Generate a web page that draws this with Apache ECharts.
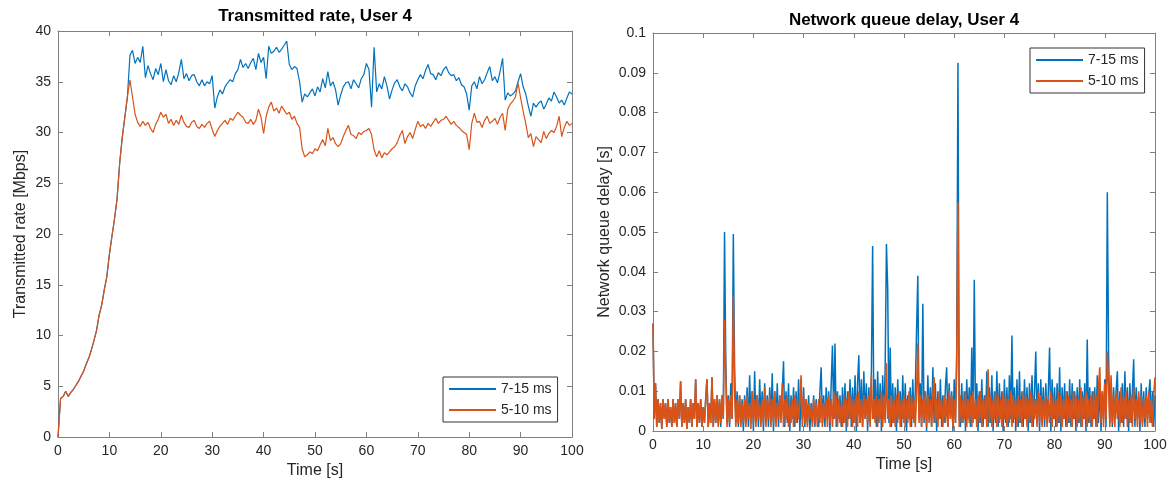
<!DOCTYPE html>
<html>
<head>
<meta charset="utf-8">
<script src="https://cdn.jsdelivr.net/npm/echarts@6/dist/echarts.min.js"></script>
<style>
  html, body { margin: 0; padding: 0; background: #fff; }
  #chart { width: 1175px; height: 488px; }
</style>
</head>
<body>
<div id="chart"></div>
<script>
// series names
const seriesNames = ['7-15 ms', '5-10 ms'];

// transmitted rate [Mbps], sampled every 0.5 s
const rateStep = 0.5;
// start-up ramp 0 .. 13.5 s, both cases identical
const rampRate = [0, 3.8, 4.0, 4.5, 4.0, 4.4, 4.7, 5.1, 5.5, 6.0, 6.5, 7.2, 7.8, 8.6,
  9.5, 10.5, 12.0, 13.0, 14.5, 15.8, 18.0, 19.8, 21.5, 23.5, 27.0, 29.5, 31.5, 33.5];
// 14 .. 100 s
const rateBlue = [
  37.6, 38.1, 36.8, 37.4, 36.9, 38.5, 35.4, 36.6, 35.8, 35.2,
  36.3, 35.7, 36.8, 35.0, 36.2, 35.1, 34.7, 35.6, 35.0, 35.9,
  37.2, 35.3, 35.8, 35.1, 35.6, 35.7, 35.0, 34.6, 35.2, 34.6,
  35.0, 34.8, 35.6, 32.4, 33.5, 34.2, 33.8, 34.5, 34.9, 35.2,
  35.0, 35.8, 36.2, 37.2, 36.4, 36.8, 36.3, 36.9, 37.3, 36.2,
  37.8, 36.9, 37.4, 35.3, 38.5, 37.8, 38.0, 38.4, 37.9, 38.2,
  38.6, 39.0, 36.7, 36.2, 36.5, 36.3, 35.0, 33.0, 33.8, 33.5,
  33.9, 34.3, 33.6, 34.5, 34.0, 35.3, 34.4, 36.0, 34.6, 35.0,
  34.2, 32.7, 33.7, 34.5, 34.9, 35.0, 34.3, 35.2, 34.8, 34.4,
  35.3, 35.7, 36.8, 36.2, 32.5, 38.4, 34.0, 34.8, 34.3, 35.5,
  34.6, 33.3, 34.2, 34.9, 35.2, 34.5, 34.1, 34.8, 34.5, 33.9,
  33.5, 34.6, 35.2, 35.7, 35.3, 36.1, 36.7, 35.8, 35.7, 35.2,
  35.9, 35.6, 36.2, 36.5, 35.9, 35.6, 35.7, 35.1, 35.4, 34.7,
  34.5, 33.8, 32.2, 34.6, 35.0, 34.3, 35.5, 34.8, 35.2, 35.9,
  36.5, 35.1, 35.5, 34.9, 36.0, 37.3, 33.2, 33.9, 33.6, 33.8,
  34.1, 35.0, 35.8, 34.5, 33.8, 32.6, 31.6, 32.9, 32.5, 32.9,
  33.1, 32.3, 32.8, 33.4, 33.1, 34.0, 33.5, 32.9, 33.2, 32.7,
  33.4, 34.0, 33.8
];
const rateOrange = [
  35.2, 33.5, 31.8, 31.0, 30.6, 31.1, 30.7, 31.0, 30.4, 30.0,
  30.8, 31.3, 32.0, 31.5, 31.8, 30.9, 31.3, 30.7, 31.2, 30.8,
  31.7, 31.0, 30.6, 30.5, 31.0, 31.2, 30.6, 30.4, 30.8, 30.5,
  30.9, 31.1, 30.3, 29.6, 30.2, 30.6, 30.9, 31.2, 30.8, 31.4,
  31.2, 31.6, 32.0, 31.7, 31.5, 31.0, 30.9, 31.3, 30.8, 31.2,
  32.3, 31.5, 29.9, 31.6, 32.5, 33.0, 32.1, 32.4, 31.9, 32.6,
  32.2, 31.8, 32.0, 31.3, 31.6, 30.9, 30.5, 28.4, 27.6, 27.8,
  28.1, 27.9, 28.4, 28.2, 28.8, 29.3, 28.7, 30.4, 29.2, 29.5,
  28.9, 28.6, 28.9, 29.6, 30.2, 30.7, 29.8, 29.7, 29.4, 30.0,
  29.8, 30.1, 30.2, 30.4, 29.8, 28.3, 27.6, 28.2, 27.5, 28.0,
  27.8, 28.1, 28.4, 28.6, 29.0, 29.7, 30.2, 28.9, 29.6, 30.0,
  29.4, 30.3, 31.1, 30.6, 30.8, 30.4, 30.9, 30.6, 31.0, 31.4,
  30.9, 31.2, 31.3, 31.6, 31.2, 30.8, 31.1, 30.7, 30.5, 30.2,
  30.0, 29.8, 28.3, 30.9, 31.9, 31.0, 31.1, 30.5, 31.2, 31.6,
  30.9, 31.1, 31.4, 30.8, 31.5, 31.9, 30.2, 32.3, 32.8, 33.1,
  33.5, 34.9, 33.4, 32.1, 30.9, 29.5, 29.9, 28.6, 29.6, 29.3,
  29.0, 30.1, 29.4, 29.9, 30.2, 30.0, 30.6, 31.6, 29.6, 30.5,
  31.1, 30.7, 30.9
];

// network queue delay [ms], sampled every 0.25 s
const delayStep = 0.25;
// 0 .. 12.75 s, both cases identical
const startDelay = [
  27, 3, 12, 1, 8, 2, 7, 0.5, 8, 3, 7, 1, 8, 2, 6, 1, 8, 2, 7, 1,
  8, 3, 12.5, 1, 7, 2, 8, 0.5, 6, 2, 8, 1, 7, 3, 13, 1, 7, 2, 8, 1,
  6, 2, 8, 13, 1, 7, 2, 13.5, 1, 8, 2, 9
];
// 13 .. 100 s
const delayBlue = [
  2, 8, 1, 9, 3, 50, 17, 2, 9, 1, 12, 3, 49.5, 16, 2, 10, 1, 9, 2, 8,
  0, 9, 2, 11, 1, 14, 3, 10, 0, 15, 2, 9, 1, 13, 3, 10, 0, 12, 2, 9,
  1, 11, 3, 14.5, 0, 10, 2, 12, 1, 9, 3, 10, 17.5, 1, 10, 2, 12, 0, 9, 3,
  11, 1, 10, 2, 13, 0, 9, 3, 11, 1, 8, 2, 9, 0, 7, 2, 9, 1, 8, 3,
  1, 10, 16, 2, 9, 1, 11, 3, 10, 0, 12, 21.5, 3, 22, 1, 10, 3, 9, 1, 11,
  2, 12, 0, 10, 3, 13, 1, 11, 2, 14, 0, 12, 19, 2, 13, 1, 15, 3, 12, 0,
  11, 2, 14, 46.5, 3, 13, 1, 15, 2, 12, 0, 14, 3, 16, 47, 36, 2, 21, 1, 12,
  2, 11, 0, 13, 3, 10, 1, 14, 2, 12, 0, 9, 3, 11, 1, 13, 2, 10, 25, 39,
  3, 12, 1, 32, 2, 10, 0, 14, 3, 11, 1, 16, 2, 12, 0, 10, 3, 13, 1, 9,
  2, 11, 16, 1, 12, 3, 10, 0, 13, 2, 20, 92.5, 3, 1, 12, 2, 10, 0, 13, 3,
  11, 1, 21, 2, 38, 3, 12, 0, 10, 2, 13, 1, 9, 3, 15, 1, 11, 2, 14, 0,
  10, 2, 15, 1, 12, 3, 10, 0, 13, 2, 11, 1, 14, 3, 24, 2, 11, 0, 13, 1,
  15, 2, 10, 1, 13, 3, 11, 0, 12, 2, 14, 1, 10, 20, 2, 12, 0, 13, 3, 11,
  1, 12, 2, 10, 21, 0, 13, 3, 11, 1, 12, 2, 16, 0, 11, 3, 12, 1, 10, 2,
  13, 1, 12, 3, 10, 0, 11, 2, 13, 1, 10, 3, 12, 0, 23, 2, 11, 1, 10, 3,
  11, 1, 14, 2, 12, 0, 10, 3, 13, 1, 60, 20, 2, 12, 1, 11, 3, 10, 15, 0,
  10, 2, 12, 1, 15, 3, 11, 0, 12, 2, 10, 18, 1, 11, 3, 9, 0, 12, 2, 10,
  1, 11, 3, 9, 13, 2, 10, 1, 9
];
const delayOrange = [
  1, 8, 2, 9, 3, 28, 14, 1, 8, 2, 9, 3, 34, 10, 1, 8, 2, 9, 1, 7,
  2, 8, 1, 9, 3, 7, 0.5, 10, 2, 8, 1, 9, 3, 7, 1, 8, 2, 11, 1, 8,
  3, 9, 1, 8, 2, 10, 1, 7, 3, 9, 2, 12, 1, 8, 3, 9, 1, 7, 2, 8,
  1, 9, 2, 8, 3, 7, 14, 1, 9, 2, 8, 1, 7, 3, 6, 1, 8, 2, 7, 1,
  8, 2, 9, 1, 7, 3, 8, 1, 9, 2, 8, 1, 10, 3, 9, 1, 8, 2, 7, 1,
  9, 2, 8, 1, 10, 3, 9, 1, 8, 2, 9, 1, 10, 2, 8, 1, 9, 3, 8, 2,
  9, 1, 14, 3, 8, 2, 9, 1, 8, 3, 10, 1, 9, 2, 17, 3, 8, 1, 9, 2,
  8, 1, 9, 2, 10, 1, 8, 3, 9, 1, 8, 2, 10, 1, 9, 3, 8, 1, 9, 22,
  2, 9, 1, 8, 3, 10, 1, 9, 2, 8, 1, 9, 13.5, 2, 8, 1, 10, 3, 8, 1,
  9, 2, 8, 1, 10, 3, 9, 1, 8, 2, 16, 57.5, 1, 9, 2, 8, 3, 10, 1, 8,
  2, 9, 1, 10, 3, 8, 1, 9, 2, 10, 1, 8, 3, 9, 1, 15.5, 2, 9, 1, 8,
  3, 10, 1, 9, 2, 8, 1, 10, 3, 9, 1, 8, 2, 10, 1, 9, 3, 8, 1, 9,
  2, 8, 1, 10, 3, 9, 1, 8, 2, 10, 1, 9, 3, 8, 1, 10, 2, 9, 1, 8,
  3, 9, 1, 8, 2, 10, 1, 9, 3, 8, 1, 10, 2, 9, 1, 8, 3, 10, 1, 9,
  2, 8, 1, 10, 3, 9, 1, 8, 2, 11, 1, 9, 3, 10, 1, 8, 2, 9, 1, 10,
  3, 9, 1, 11, 16, 2, 10, 1, 12, 3, 20, 11, 1, 14, 2, 9, 1, 10, 3, 8,
  1, 11, 2, 9, 3, 10, 1, 8, 2, 9, 1, 11, 3, 8, 1, 10, 2, 9, 1, 8,
  3, 9, 1, 10, 2, 8, 1, 9, 13.5
];

const BLUE = '#0072BD';
const ORANGE = '#D95319';
const AXIS = '#808080';
const TEXT = '#262626';
const FONT = 'Liberation Sans, Arial, sans-serif';

function toPairs(values, step, scale) {
  return values.map((v, i) => [+(i * step).toFixed(2), v * scale]);
}

const rateBlueData = toPairs(rampRate.concat(rateBlue), rateStep, 1);
const rateOrangeData = toPairs(rampRate.concat(rateOrange), rateStep, 1);
const delayBlueData = toPairs(startDelay.concat(delayBlue), delayStep, 0.001);
const delayOrangeData = toPairs(startDelay.concat(delayOrange), delayStep, 0.001);

function axis(extra) {
  return Object.assign({
    type: 'value',
    axisLine: {show: true, onZero: false, lineStyle: {color: AXIS, width: 1}},
    axisTick: {show: true, inside: true, length: 5, lineStyle: {color: AXIS}},
    splitLine: {show: false},
    axisLabel: {color: TEXT, fontSize: 14, fontFamily: FONT, margin: 7},
    nameTextStyle: {color: TEXT, fontSize: 16, fontFamily: FONT}
  }, extra);
}

const xBase = {min: 0, max: 100, interval: 10};
const rateY = {min: 0, max: 40, interval: 5};
const delayY = {min: 0, max: 0.1, interval: 0.01};
const noLabel = {axisLabel: {show: false}};

const legendStyle = {
  orient: 'vertical', icon: 'rect', itemWidth: 47, itemHeight: 2, itemGap: 7,
  padding: [5, 6, 5, 6], borderColor: '#333', borderWidth: 1, backgroundColor: '#fff',
  textStyle: {color: TEXT, fontSize: 14, fontFamily: FONT}
};

const chart = echarts.init(document.getElementById('chart'));
const option = {
  animation: false,
  backgroundColor: '#fff',
  title: [
    {
      text: 'Transmitted rate, User 4', left: 315, top: 8, textAlign: 'center', padding: 0,
      textStyle: {fontSize: 17, fontWeight: 'bold', color: '#000', fontFamily: FONT}
    },
    {
      text: 'Network queue delay, User 4', left: 904, top: 12, textAlign: 'center', padding: 0,
      textStyle: {fontSize: 17, fontWeight: 'bold', color: '#000', fontFamily: FONT}
    }
  ],
  grid: [
    {left: 58, top: 31, width: 514, height: 406},
    {left: 653, top: 33, width: 502, height: 398}
  ],
  legend: [
    Object.assign({data: seriesNames, left: 443, top: 377}, legendStyle),
    Object.assign({data: seriesNames, left: 1030, top: 48}, legendStyle)
  ],
  xAxis: [
    axis(Object.assign({gridIndex: 0, position: 'bottom', name: 'Time [s]', nameLocation: 'middle', nameGap: 24}, xBase)),
    axis(Object.assign({gridIndex: 0, position: 'top'}, xBase, noLabel)),
    axis(Object.assign({gridIndex: 1, position: 'bottom', name: 'Time [s]', nameLocation: 'middle', nameGap: 24}, xBase)),
    axis(Object.assign({gridIndex: 1, position: 'top'}, xBase, noLabel))
  ],
  yAxis: [
    axis(Object.assign({gridIndex: 0, position: 'left', name: 'Transmitted rate [Mbps]', nameLocation: 'middle', nameGap: 29}, rateY)),
    axis(Object.assign({gridIndex: 0, position: 'right'}, rateY, noLabel)),
    axis(Object.assign({gridIndex: 1, position: 'left', name: 'Network queue delay [s]', nameLocation: 'middle', nameGap: 40,
      axisLabel: {color: TEXT, fontSize: 14, fontFamily: FONT, margin: 7, formatter: v => String(+v.toFixed(2))}}, delayY)),
    axis(Object.assign({gridIndex: 1, position: 'right'}, delayY, noLabel))
  ],
  series: [
    {
      name: seriesNames[0], type: 'line', xAxisIndex: 0, yAxisIndex: 0, data: rateBlueData,
      symbol: 'none', lineStyle: {color: BLUE, width: 1.2}, itemStyle: {color: BLUE}
    },
    {
      name: seriesNames[1], type: 'line', xAxisIndex: 0, yAxisIndex: 0, data: rateOrangeData,
      symbol: 'none', lineStyle: {color: ORANGE, width: 1.2}, itemStyle: {color: ORANGE}
    },
    {
      name: seriesNames[0], type: 'line', xAxisIndex: 2, yAxisIndex: 2, data: delayBlueData,
      symbol: 'none', lineStyle: {color: BLUE, width: 1.5}, itemStyle: {color: BLUE}
    },
    {
      name: seriesNames[1], type: 'line', xAxisIndex: 2, yAxisIndex: 2, data: delayOrangeData,
      symbol: 'none', lineStyle: {color: ORANGE, width: 1.6}, itemStyle: {color: ORANGE}
    }
  ]
};
chart.setOption(option);
</script>
</body>
</html>
